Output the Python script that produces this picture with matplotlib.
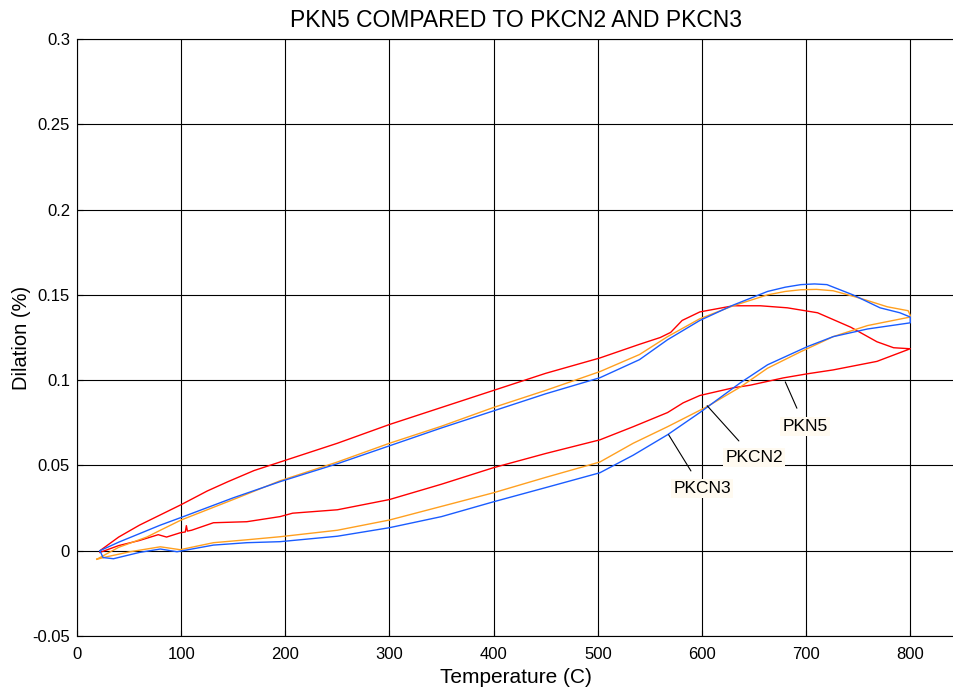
import matplotlib.pyplot as plt

plt.rcParams['font.family'] = ['Liberation Sans', 'DejaVu Sans']

# PKN5 (red): heating branch then cooling branch
pkn5_t = [22, 40, 60, 80, 100, 125, 145, 170, 200, 250, 300, 350, 400, 450, 502, 540, 560,
          570, 581, 598, 630, 656, 682, 711, 743, 768, 784, 800,
          800, 768, 726, 701, 678, 646, 630, 598, 582, 567, 534, 502, 450, 400,
          350, 300, 250, 207, 195, 163, 131, 110, 106, 105, 104, 99, 86, 78, 60, 40, 22]
pkn5_d = [0.0, 0.008, 0.015, 0.021, 0.027, 0.035, 0.0405, 0.047, 0.053, 0.063, 0.074, 0.084, 0.094,
          0.104, 0.113, 0.121, 0.125, 0.128, 0.135, 0.140, 0.1436, 0.1436, 0.1424,
          0.1395, 0.131, 0.1225, 0.119, 0.1184,
          0.1184, 0.111, 0.106, 0.1037, 0.1013, 0.097, 0.0955, 0.091, 0.0867, 0.081,
          0.0727, 0.065, 0.057, 0.0487, 0.039, 0.030, 0.024, 0.022, 0.020, 0.017,
          0.0164, 0.012, 0.0115, 0.0147, 0.011, 0.0105, 0.008, 0.0094, 0.006,
          0.003, -0.001]

# PKCN2 (orange)
pkcn2_t = [19, 40, 67, 80, 100, 150, 195, 250, 300, 350, 400, 450, 502, 540, 567,
           598, 630, 663, 680, 695, 710, 726, 752, 778, 798, 800,
           800, 759, 726, 695, 663, 637, 605, 567, 534, 502, 450, 400, 350, 300,
           250, 195, 163, 131, 99, 80, 51, 29, 19]
pkcn2_d = [-0.005, 0.002, 0.008, 0.012, 0.018, 0.030, 0.041, 0.052, 0.063, 0.073,
           0.084, 0.094, 0.105, 0.115, 0.1255, 0.136, 0.1436, 0.150, 0.152, 0.153,
           0.1532, 0.1524, 0.148, 0.143, 0.1407, 0.138,
           0.137, 0.132, 0.1255, 0.1167, 0.107, 0.096, 0.0845, 0.0727, 0.063, 0.052,
           0.043, 0.034, 0.026, 0.018, 0.012, 0.0082, 0.0064, 0.0047, 0.0006,
           0.0023, -0.0006, -0.0035, -0.005]

# PKCN3 (blue)
pkcn3_t = [22, 40, 60, 80, 100, 150, 195, 250, 300, 350, 400, 450, 502, 540, 567,
           598, 630, 663, 680, 695, 708, 720, 745, 771, 790, 800,
           800, 759, 726, 701, 663, 637, 598, 567, 534, 502, 450, 400, 350, 300,
           250, 195, 163, 131, 96, 80, 60, 35, 25, 22]
pkcn3_d = [0.0, 0.005, 0.010, 0.015, 0.0195, 0.031, 0.0405, 0.051, 0.0615, 0.072,
           0.082, 0.092, 0.1014, 0.112, 0.1237, 0.135, 0.144, 0.152, 0.1545, 0.156,
           0.1564, 0.156, 0.150, 0.1424, 0.1395, 0.137,
           0.1336, 0.130, 0.1255, 0.1196, 0.109, 0.0985, 0.081, 0.068, 0.056, 0.0457,
           0.037, 0.0287, 0.020, 0.0135, 0.0085, 0.0053, 0.0047, 0.0033, -0.0006,
           0.001, -0.001, -0.0047, -0.004, 0.0]

xticks = [0, 100, 200, 300, 400, 500, 600, 700, 800]
yticks = [-0.05, 0, 0.05, 0.1, 0.15, 0.2, 0.25, 0.3]
ytick_labels = ['-0.05', '0', '0.05', '0.1', '0.15', '0.2', '0.25', '0.3']

fig = plt.figure(figsize=(9.54, 6.96), dpi=100)
ax = fig.add_axes([77 / 954, 60 / 696, 877 / 954, 597 / 696])

ax.plot(pkn5_t, pkn5_d, color='#ff0000', lw=1.0)
ax.plot(pkcn2_t, pkcn2_d, color='#ffa020', lw=1.0)
ax.plot(pkcn3_t, pkcn3_d, color='#1a5cff', lw=1.0)

ax.set_xlim(0, 842)
ax.set_ylim(-0.05, 0.3)
ax.set_xticks(xticks)
ax.set_yticks(yticks)
ax.set_yticklabels(ytick_labels)
ax.grid(True, color='black', lw=0.8, ls='-')
ax.tick_params(direction='in', length=4, labelsize=12)
ax.tick_params(axis='x', pad=8)
ax.tick_params(axis='y', pad=5)
for s in ax.spines.values():
    s.set_linewidth(0.8)

ax.set_title('PKN5 COMPARED TO PKCN2 AND PKCN3', fontsize=16.5, pad=9)
ax.set_xlabel('Temperature (C)', fontsize=15, labelpad=4)
ax.set_ylabel('Dilation (%)', fontsize=14.5, labelpad=1)

box = dict(facecolor='#fffaf0', edgecolor='none', pad=1.5)
arrow = dict(arrowstyle='-', color='black', lw=0.8, shrinkA=7, shrinkB=0)
ax.annotate('PKN5', xy=(680, 0.099), xytext=(699, 0.0727), ha='center', va='center',
            fontsize=12.5, bbox=box, arrowprops=arrow)
ax.annotate('PKCN2', xy=(605, 0.085), xytext=(650, 0.0545), ha='center', va='center',
            fontsize=12.5, bbox=box, arrowprops=arrow)
ax.annotate('PKCN3', xy=(568, 0.068), xytext=(600, 0.0363), ha='center', va='center',
            fontsize=12.5, bbox=box, arrowprops=arrow)

fig.savefig('out.png', dpi=100)
